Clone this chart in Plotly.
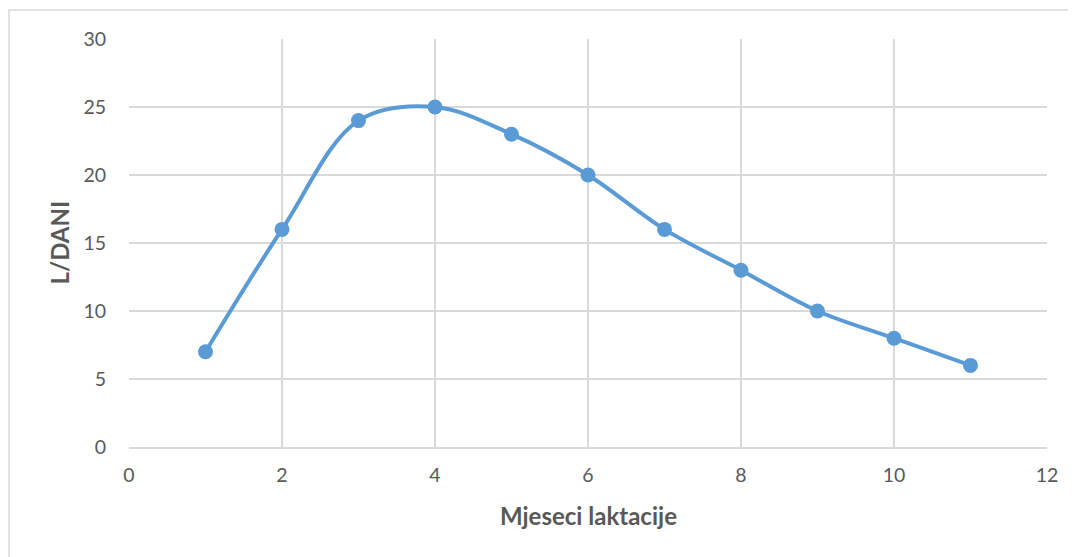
import plotly.graph_objects as go

months = [1, 2, 3, 4, 5, 6, 7, 8, 9, 10, 11]
liters = [7, 16, 24, 25, 23, 20, 16, 13, 10, 8, 6]
x_ticks = [0, 2, 4, 6, 8, 10, 12]
y_ticks = [0, 5, 10, 15, 20, 25, 30]

W, H = 1076, 557
# page is offset by 8px body margin; compensate
L, R, T, B = 121, 37, 31, 118
pw, ph = W - L - R, H - T - B

color = "#5b9bd5"
grid = "#d9d9d9"
txt = "#595959"
font = "Lato, Calibri, Carlito, sans-serif"

fig = go.Figure()
fig.add_trace(go.Scatter(
    x=months, y=liters, mode="lines+markers",
    line=dict(color=color, width=4, shape="spline", smoothing=1.0),
    marker=dict(color=color, size=15),
    showlegend=False, hoverinfo="x+y",
))

fig.update_layout(
    width=W, height=H,
    margin=dict(l=L, r=R, t=T, b=B),
    paper_bgcolor="white", plot_bgcolor="white",
    font=dict(family=font, size=19.5, color=txt),
    xaxis=dict(
        range=[0, 12], tickvals=x_ticks, ticktext=[str(v) for v in x_ticks],
        showgrid=True, gridcolor=grid, gridwidth=1.5,
        zeroline=False, showline=True, linecolor=grid, linewidth=1.5,
        ticks="", ticklabelstandoff=10,
        fixedrange=True,
    ),
    yaxis=dict(
        range=[0, 30], tickvals=y_ticks, ticktext=[str(v) for v in y_ticks],
        showgrid=True, gridcolor=grid, gridwidth=1.5,
        zeroline=False, showline=False,
        ticks="", ticklabelstandoff=22,
        fixedrange=True,
    ),
    annotations=[
        dict(text="<b>Mjeseci laktacije</b>", xref="paper", yref="paper",
             x=(588 - 8 - L) / pw, y=(H - B - (515 - 8)) / ph,
             xanchor="center", yanchor="middle", showarrow=False,
             font=dict(size=24, color=txt)),
        dict(text="<b>L/DANI</b>", xref="paper", yref="paper",
             x=(58.5 - 8 - L) / pw, y=0.5, textangle=-90,
             xanchor="center", yanchor="middle", showarrow=False,
             font=dict(size=24, color=txt)),
    ],
)

# outer chart border
fig.add_shape(
    type="rect", xref="paper", yref="paper",
    x0=(1 - L) / pw, x1=(W + 20 - L) / pw,
    y0=-(H + 20 - T - ph) / ph, y1=1 + (T - 2) / ph,
    line=dict(color=grid, width=1.5), fillcolor="rgba(0,0,0,0)", layer="below",
)

fig.write_html("out.html")
